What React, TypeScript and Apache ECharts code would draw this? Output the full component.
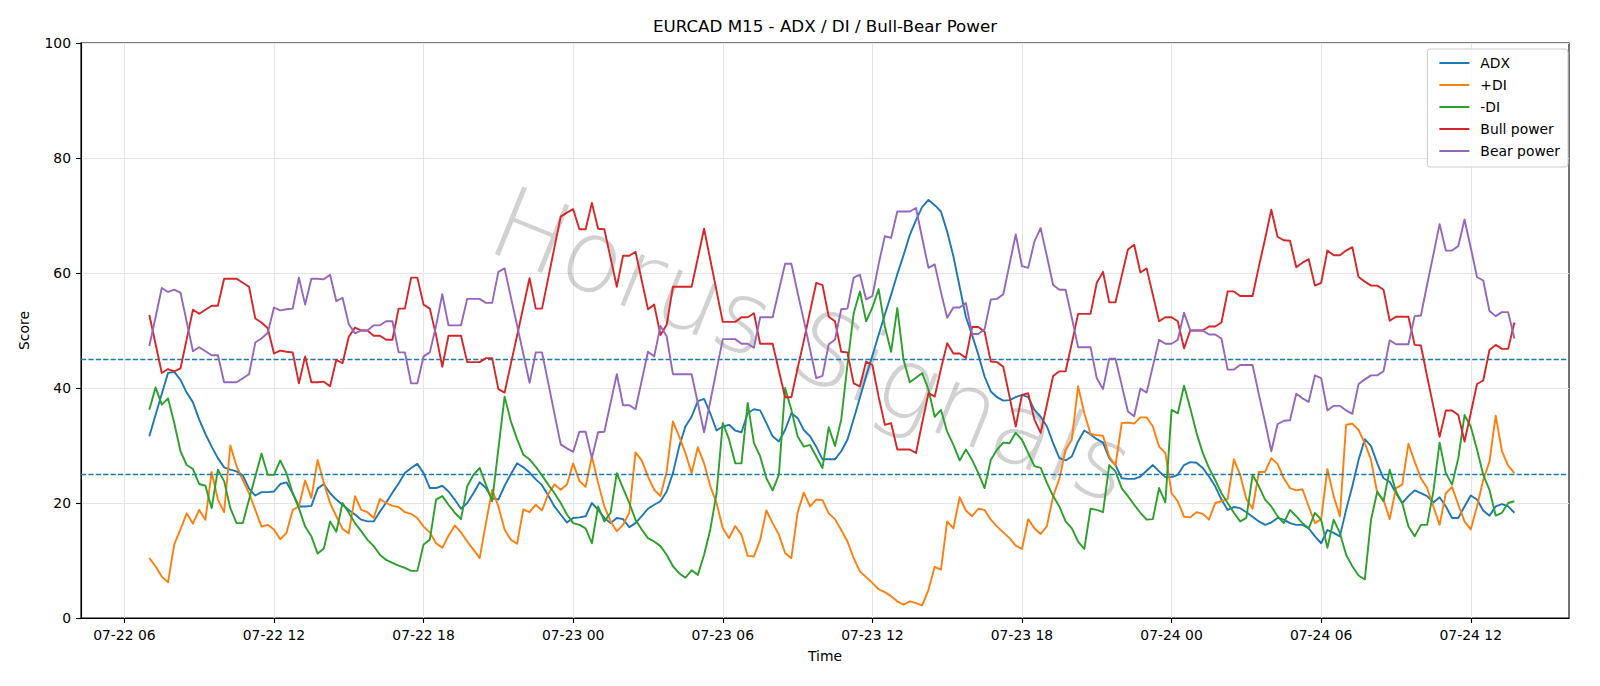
import React, { useEffect, useRef } from 'react';
import * as echarts from 'echarts';

// Time axis in hours counted from 07-22 00:00; first bar is 07-22 07:00, M15 bars.
const FIRST_HOUR = 7;
const STEP_HOURS = 0.25;

const ADX = [
  31.6, 35.3, 39.0, 42.6, 42.8, 41.4, 39.2, 37.5, 34.5, 32.0,
  29.8, 27.8, 26.2, 25.8, 25.5, 24.8, 22.5, 21.3, 21.9, 21.9,
  22.0, 23.3, 23.6, 21.7, 19.4, 19.4, 19.5, 22.5, 23.3, 21.7,
  20.6, 19.7, 18.8, 18.0, 17.1, 16.8, 16.8, 18.5, 20.1, 21.8,
  23.4, 25.2, 26.1, 26.8, 25.2, 22.6, 22.6, 23.0, 22.0, 20.6,
  19.0, 20.0, 21.7, 23.6, 22.6, 20.8, 20.6, 23.0, 25.0, 26.9,
  26.2, 25.3, 24.1, 23.1, 21.3, 19.4, 18.0, 16.6, 17.4, 17.5,
  17.7, 20.0, 18.8, 17.4, 16.5, 17.4, 17.2, 15.8, 16.5, 17.7,
  19.0, 19.7, 20.3, 22.0, 25.2, 29.8, 33.3, 35.0, 37.7, 38.1,
  35.6, 32.6, 33.3, 33.6, 32.6, 32.3, 35.6, 36.3, 36.1, 33.9,
  31.6, 30.7, 32.7, 35.6, 34.8, 32.7, 31.6, 29.8, 27.6, 27.6,
  27.6, 29.0, 31.0, 34.6, 38.3, 42.1, 45.6, 49.2, 52.8, 56.2,
  59.8, 63.1, 66.6, 69.2, 71.5, 72.7, 71.8, 70.7, 67.2, 62.9,
  57.6, 52.4, 49.2, 45.8, 42.0, 39.4, 38.4, 37.8, 37.9, 38.4,
  38.8, 38.4, 36.2, 35.0, 33.3, 30.4, 27.8, 27.4, 28.1, 30.7,
  32.6, 31.9, 31.1, 30.5, 27.8, 26.6, 24.3, 24.2, 24.2, 24.6,
  25.6, 26.6, 25.5, 24.5, 24.5, 24.9, 26.6, 27.1, 27.0, 26.1,
  24.6, 22.9, 20.6, 18.8, 19.3, 19.1, 18.4, 17.6, 16.8, 16.2,
  16.6, 17.4, 17.1, 16.5, 16.2, 16.2, 15.6, 14.2, 13.0, 15.3,
  14.8, 14.2, 18.8, 22.9, 27.5, 31.1, 29.9, 26.9, 24.3, 23.7,
  21.7, 20.0, 21.2, 22.2, 21.7, 21.2, 20.1, 21.0, 19.4, 17.4,
  17.4, 19.4, 21.3, 20.6, 18.7, 17.8, 19.4, 19.8, 19.4, 18.3,
];

const PLUS_DI = [
  10.4, 9.0, 7.2, 6.2, 12.8, 15.4, 18.2, 16.4, 18.8, 17.1,
  25.4, 20.6, 18.4, 30.0, 26.4, 24.0, 21.7, 18.8, 15.9, 16.2,
  15.4, 13.7, 14.8, 18.8, 19.4, 23.9, 20.9, 27.5, 23.5, 20.0,
  17.7, 15.5, 14.7, 21.2, 18.8, 18.4, 17.4, 20.7, 20.0, 19.5,
  19.3, 18.4, 18.1, 17.4, 15.9, 14.9, 13.0, 12.2, 14.3, 16.1,
  14.9, 13.3, 11.9, 10.4, 16.5, 22.3, 19.4, 15.4, 13.6, 12.9,
  18.9, 18.4, 19.7, 18.7, 21.6, 23.2, 22.3, 23.2, 26.9, 23.8,
  22.8, 28.1, 23.5, 19.4, 16.8, 15.1, 16.2, 18.3, 28.8, 27.4,
  24.6, 22.3, 21.2, 25.5, 34.2, 31.6, 28.7, 25.2, 29.7, 26.9,
  22.9, 20.0, 15.6, 13.9, 16.0, 14.5, 10.8, 10.7, 13.6, 18.7,
  16.5, 14.5, 11.3, 10.4, 18.3, 21.8, 19.4, 20.6, 20.5, 18.2,
  17.2, 15.3, 13.3, 10.4, 8.1, 7.1, 6.1, 5.0, 4.5, 3.8,
  2.9, 2.3, 2.9, 2.6, 2.2, 4.9, 8.9, 8.4, 16.8, 15.6,
  21.0, 18.7, 17.7, 19.0, 18.8, 17.1, 15.9, 14.9, 13.9, 12.6,
  12.0, 17.2, 15.6, 14.6, 16.0, 21.2, 24.2, 29.3, 31.0, 40.3,
  35.6, 32.0, 31.8, 31.7, 28.1, 26.5, 33.9, 34.0, 33.8, 34.9,
  34.9, 33.3, 29.8, 28.7, 21.7, 20.3, 17.6, 17.5, 18.4, 18.1,
  17.1, 20.0, 20.3, 20.7, 27.6, 24.9, 20.7, 19.0, 25.4, 25.4,
  27.8, 26.8, 24.3, 22.6, 22.2, 22.4, 19.4, 16.5, 17.2, 25.9,
  21.2, 17.7, 33.6, 33.8, 32.7, 30.4, 27.5, 21.7, 20.6, 17.2,
  22.6, 23.2, 30.3, 27.2, 24.3, 22.6, 19.4, 16.2, 21.7, 22.8,
  19.7, 16.8, 15.4, 19.4, 24.0, 27.2, 35.2, 29.0, 26.5, 25.2,
];

const MINUS_DI = [
  36.2, 40.1, 37.1, 38.2, 33.9, 29.0, 26.6, 25.9, 23.3, 23.0,
  19.1, 25.8, 23.8, 19.1, 16.5, 16.5, 20.6, 24.6, 28.6, 24.9,
  24.9, 27.4, 25.2, 21.7, 19.1, 15.9, 14.2, 11.2, 12.1, 16.8,
  15.0, 20.0, 18.3, 16.5, 15.1, 13.6, 12.5, 11.0, 10.1, 9.6,
  9.1, 8.7, 8.2, 8.2, 12.8, 13.6, 20.6, 21.2, 19.7, 18.3,
  17.2, 22.9, 24.9, 26.1, 23.2, 20.3, 29.4, 38.5, 34.2, 31.1,
  28.4, 27.6, 26.3, 24.8, 23.2, 21.7, 20.0, 18.0, 16.5, 16.2,
  15.6, 13.0, 19.4, 16.8, 18.3, 25.2, 22.6, 20.0, 17.1, 15.4,
  13.9, 13.3, 12.5, 11.0, 9.0, 7.8, 7.0, 8.3, 7.5, 11.0,
  15.4, 21.7, 33.9, 31.1, 26.9, 26.9, 37.4, 30.4, 28.1, 24.3,
  22.2, 24.9, 40.0, 36.2, 31.6, 29.8, 30.1, 28.1, 26.1, 33.2,
  29.9, 34.5, 44.0, 53.0, 56.8, 51.6, 54.0, 57.2, 50.7, 46.3,
  53.9, 44.9, 41.0, 41.8, 42.6, 39.7, 35.0, 36.2, 32.4, 30.1,
  27.4, 29.3, 27.5, 25.2, 22.6, 27.5, 29.3, 30.5, 30.4, 32.2,
  31.0, 28.7, 26.4, 26.1, 23.5, 21.2, 19.4, 16.8, 15.6, 13.3,
  12.0, 19.0, 18.8, 18.4, 26.6, 25.5, 22.6, 21.2, 19.7, 18.3,
  17.1, 17.2, 22.6, 20.1, 36.2, 35.6, 40.4, 36.5, 32.2, 28.7,
  26.1, 24.0, 21.7, 20.0, 18.3, 16.8, 17.4, 24.9, 22.9, 20.6,
  19.4, 17.7, 16.5, 18.8, 17.7, 16.5, 15.6, 18.3, 17.1, 12.2,
  17.1, 14.8, 11.0, 9.0, 7.4, 6.7, 17.1, 22.0, 20.3, 25.8,
  22.0, 20.0, 15.9, 14.2, 16.2, 16.2, 22.0, 30.5, 25.2, 23.2,
  27.8, 35.3, 33.3, 29.3, 24.9, 22.3, 17.8, 18.3, 20.0, 20.3,
];

const BULL_POWER = [
  52.7, 47.7, 42.6, 43.3, 42.9, 43.4, 48.5, 53.6, 52.9, 53.6,
  54.3, 54.3, 59.0, 59.0, 59.0, 58.3, 57.6, 52.1, 51.4, 50.4,
  46.0, 46.5, 46.3, 46.2, 40.8, 45.5, 41.0, 41.0, 41.1, 40.3,
  44.9, 44.3, 48.9, 50.5, 50.0, 50.0, 49.1, 49.1, 48.4, 48.4,
  53.8, 53.8, 59.2, 59.2, 54.5, 53.8, 49.2, 43.7, 49.1, 49.1,
  49.1, 44.5, 44.5, 44.5, 45.2, 45.2, 39.8, 39.2, 44.2, 49.1,
  54.1, 59.1, 53.8, 53.8, 59.1, 64.5, 69.8, 70.5, 71.1, 67.6,
  67.6, 72.2, 67.7, 67.6, 62.6, 57.6, 63.0, 63.0, 63.7, 58.7,
  53.7, 54.5, 49.2, 51.0, 57.6, 57.6, 57.6, 57.6, 62.6, 67.7,
  62.3, 56.9, 51.5, 51.5, 51.5, 52.3, 52.3, 53.0, 47.7, 47.7,
  47.7, 43.0, 38.4, 38.4, 43.4, 48.2, 53.3, 58.3, 57.9, 52.4,
  51.6, 46.3, 46.2, 40.8, 40.3, 44.6, 44.0, 38.5, 33.6, 33.9,
  29.3, 29.3, 29.3, 28.7, 34.0, 39.1, 38.5, 43.3, 47.8, 46.0,
  46.0, 45.2, 50.6, 50.6, 49.8, 44.6, 44.5, 43.7, 38.5, 33.3,
  38.8, 39.1, 34.5, 32.2, 37.1, 42.1, 42.9, 42.9, 47.8, 52.9,
  52.9, 52.9, 58.3, 60.2, 54.9, 54.9, 59.5, 64.1, 64.9, 60.1,
  60.8, 56.2, 51.6, 52.3, 52.3, 51.6, 46.9, 50.0, 50.0, 50.0,
  50.7, 50.7, 51.4, 56.8, 56.8, 56.0, 56.0, 56.0, 61.1, 65.9,
  71.0, 66.3, 65.7, 65.6, 61.0, 61.8, 62.4, 57.8, 58.3, 63.9,
  63.1, 63.1, 63.9, 64.5, 59.3, 58.5, 57.8, 57.8, 57.1, 51.7,
  52.4, 52.4, 52.4, 47.5, 47.4, 42.0, 36.8, 31.5, 36.1, 36.1,
  35.3, 30.7, 35.6, 40.7, 41.3, 46.6, 47.5, 46.8, 46.8, 51.4,
];

const BEAR_POWER = [
  47.3, 52.3, 57.4, 56.7, 57.1, 56.6, 51.5, 46.4, 47.1, 46.4,
  45.7, 45.7, 41.0, 41.0, 41.0, 41.7, 42.4, 47.9, 48.6, 49.6,
  54.0, 53.5, 53.7, 53.8, 59.2, 54.5, 59.0, 59.0, 58.9, 59.7,
  55.1, 55.7, 51.1, 49.5, 50.0, 50.0, 50.9, 50.9, 51.6, 51.6,
  46.2, 46.2, 40.8, 40.8, 45.5, 46.2, 50.8, 56.3, 50.9, 50.9,
  50.9, 55.5, 55.5, 55.5, 54.8, 54.8, 60.2, 60.8, 55.8, 50.9,
  45.9, 40.9, 46.2, 46.2, 40.9, 35.5, 30.2, 29.5, 28.9, 32.4,
  32.4, 27.8, 32.3, 32.4, 37.4, 42.4, 37.0, 37.0, 36.3, 41.3,
  46.3, 45.5, 50.8, 49.0, 42.4, 42.4, 42.4, 42.4, 37.4, 32.3,
  37.7, 43.1, 48.5, 48.5, 48.5, 47.7, 47.7, 47.0, 52.3, 52.3,
  52.3, 57.0, 61.6, 61.6, 56.6, 51.8, 46.7, 41.7, 42.1, 47.6,
  48.4, 53.7, 53.8, 59.2, 59.7, 55.4, 56.0, 61.5, 66.4, 66.1,
  70.7, 70.7, 70.7, 71.3, 66.0, 60.9, 61.5, 56.7, 52.2, 54.0,
  54.0, 54.8, 49.4, 49.4, 50.2, 55.4, 55.5, 56.3, 61.5, 66.7,
  61.2, 60.9, 65.5, 67.8, 62.9, 57.9, 57.1, 57.1, 52.2, 47.1,
  47.1, 47.1, 41.7, 39.8, 45.1, 45.1, 40.5, 35.9, 35.1, 39.9,
  39.2, 43.8, 48.4, 47.7, 47.7, 48.4, 53.1, 50.0, 50.0, 50.0,
  49.3, 49.3, 48.6, 43.2, 43.2, 44.0, 44.0, 44.0, 38.9, 34.1,
  29.0, 33.7, 34.3, 34.4, 39.0, 38.2, 37.6, 42.2, 41.7, 36.1,
  36.9, 36.9, 36.1, 35.5, 40.7, 41.5, 42.2, 42.2, 42.9, 48.3,
  47.6, 47.6, 47.6, 52.5, 52.6, 58.0, 63.2, 68.5, 63.9, 63.9,
  64.7, 69.3, 64.4, 59.3, 58.7, 53.4, 52.5, 53.2, 53.2, 48.6,
];

const SERIES_NAMES = ['ADX', '+DI', '-DI', 'Bull power', 'Bear power'];
const SERIES_COLORS = ['#1f77b4', '#ff7f0e', '#2ca02c', '#d62728', '#9467bd'];

const TICK_HOURS = [6, 12, 18, 24, 30, 36, 42, 48, 54, 60];
const TICK_LABELS = [
  '07-22 06', '07-22 12', '07-22 18', '07-23 00', '07-23 06',
  '07-23 12', '07-23 18', '07-24 00', '07-24 06', '07-24 12',
];
const Y_TICKS = [0, 20, 40, 60, 80, 100];
const THRESHOLDS = [25, 45];

const X_MIN = 4.26;
const X_MAX = 63.94;

const FONT = "'DejaVu Sans', sans-serif";
const TITLE = 'EURCAD M15 - ADX / DI / Bull-Bear Power';
const WATERMARK = 'Horus Signals';

export default function App() {
  const ref = useRef<HTMLDivElement>(null);

  useEffect(() => {
    if (!ref.current) return;
    const chart = echarts.init(ref.current, null, { renderer: 'svg' });

    const valueSets = [ADX, PLUS_DI, MINUS_DI, BULL_POWER, BEAR_POWER];
    const toPoints = (vals: number[]) =>
      vals.map((v, i) => [FIRST_HOUR + i * STEP_HOURS, v]);

    const series: any[] = valueSets.map((vals, k) => ({
      name: SERIES_NAMES[k],
      type: 'line',
      data: toPoints(vals),
      showSymbol: false,
      symbol: 'none',
      color: SERIES_COLORS[k],
      lineStyle: { width: 1.9, color: SERIES_COLORS[k], join: 'round', cap: 'butt' },
      z: 3 + k,
    }));

    series.push({
      name: 'thresholds',
      type: 'line',
      data: [],
      silent: true,
      z: 2,
      markLine: {
        silent: true,
        symbol: 'none',
        label: { show: false },
        lineStyle: { color: '#1f77b4', width: 1.4, type: [5.2, 2.2] },
        emphasis: { disabled: true },
        data: THRESHOLDS.map((y) => ({ yAxis: y })),
      },
    });

    chart.setOption({
      animation: false,
      backgroundColor: '#ffffff',
      textStyle: { fontFamily: FONT },
      grid: {
        left: 81,
        right: 31,
        top: 43,
        bottom: 68,
        show: true,
        borderColor: '#000000',
        borderWidth: 1.1,
        backgroundColor: 'transparent',
      },
      legend: {
        orient: 'vertical',
        right: 32,
        top: 49,
        data: SERIES_NAMES,
        icon: 'rect',
        itemWidth: 30,
        itemHeight: 2,
        itemGap: 6,
        padding: [6, 8, 8, 12],
        backgroundColor: 'rgba(255,255,255,0.85)',
        borderColor: '#cccccc',
        borderWidth: 1,
        borderRadius: 3,
        selectedMode: false,
        textStyle: {
          fontFamily: FONT,
          fontSize: 13.9,
          color: '#000000',
          lineHeight: 16,
          padding: [0, 0, 0, 6],
        },
      },
      xAxis: {
        type: 'value',
        min: X_MIN,
        max: X_MAX,
        name: 'Time',
        nameLocation: 'middle',
        nameGap: 31,
        nameTextStyle: { fontFamily: FONT, fontSize: 13.9, color: '#000000' },
        axisLine: { show: true, onZero: false, lineStyle: { color: '#000000', width: 1.1 } },
        axisTick: {
          show: true,
          customValues: TICK_HOURS,
          length: 5,
          lineStyle: { color: '#000000', width: 1.1 },
        },
        axisLabel: {
          customValues: TICK_HOURS,
          margin: 10,
          fontFamily: FONT,
          fontSize: 13.9,
          color: '#000000',
          formatter: (v: number) => {
            const idx = TICK_HOURS.indexOf(Math.round(v));
            return idx >= 0 ? TICK_LABELS[idx] : '';
          },
        },
        splitLine: { show: true, lineStyle: { color: '#e6e6e6', width: 1.1 } },
      },
      yAxis: {
        type: 'value',
        min: Y_TICKS[0],
        max: Y_TICKS[Y_TICKS.length - 1],
        interval: 20,
        name: 'Score',
        nameLocation: 'middle',
        nameGap: 50,
        nameRotate: 90,
        nameTextStyle: { fontFamily: FONT, fontSize: 13.9, color: '#000000' },
        axisLine: { show: true, lineStyle: { color: '#000000', width: 1.1 } },
        axisTick: { show: true, length: 5, lineStyle: { color: '#000000', width: 1.1 } },
        axisLabel: { margin: 10, fontFamily: FONT, fontSize: 13.9, color: '#000000' },
        splitLine: { show: true, lineStyle: { color: '#e6e6e6', width: 1.1 } },
      },
      graphic: [
        {
          type: 'text',
          x: 825,
          y: 26,
          silent: true,
          style: {
            text: TITLE,
            fontFamily: FONT,
            fontSize: 16.7,
            fill: '#000000',
            textAlign: 'center',
            textVerticalAlign: 'middle',
          },
        },
        {
          type: 'text',
          x: 812,
          y: 345,
          rotation: (-22 * Math.PI) / 180,
          silent: true,
          z: 1,
          style: {
            text: WATERMARK,
            fontFamily: FONT,
            fontSize: 100,
            fontWeight: 200,
            fill: 'rgba(128,128,128,0.36)',
            textAlign: 'center',
            textVerticalAlign: 'middle',
          },
        },
      ],
      series,
    });

    return () => chart.dispose();
  }, []);

  return (
    <div
      ref={ref}
      style={{ position: 'fixed', left: 0, top: 0, width: 1600, height: 686, background: '#ffffff' }}
    />
  );
}
